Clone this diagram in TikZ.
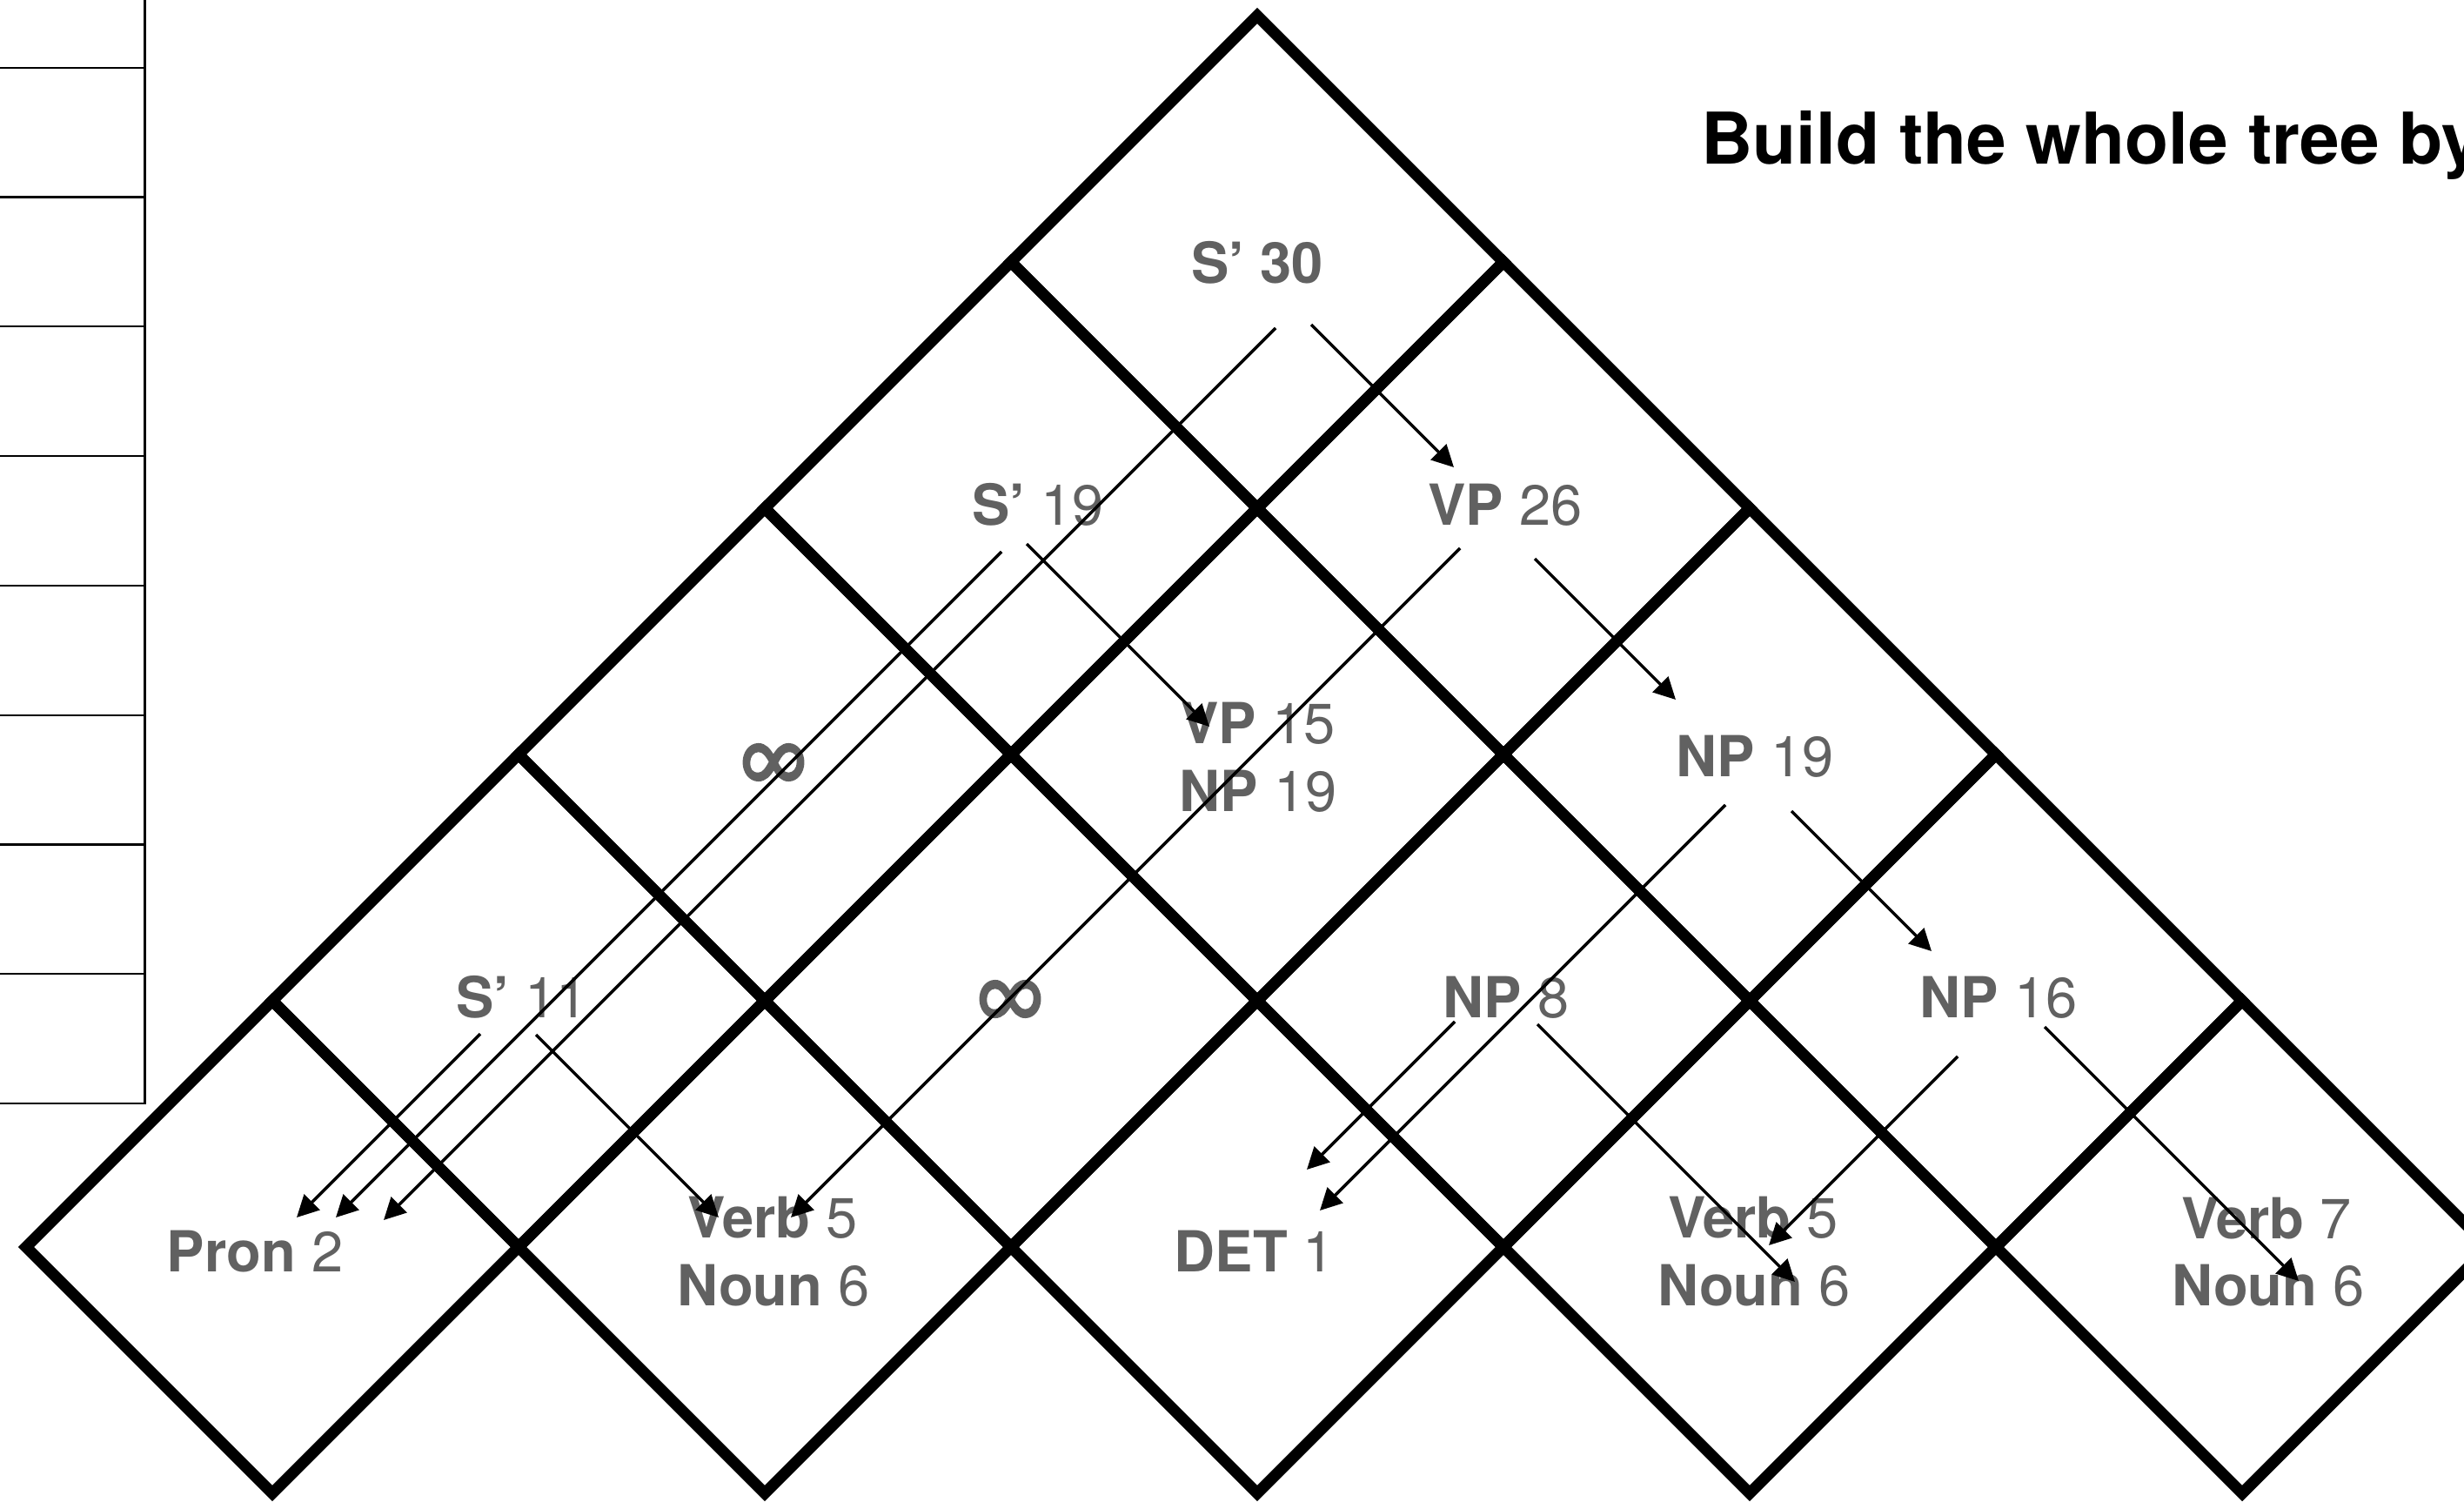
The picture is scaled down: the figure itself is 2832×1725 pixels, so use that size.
\documentclass[tikz,border=0pt]{standalone}
\usepackage{fontspec}
\setmainfont{TeX Gyre Heros}
\newfontfamily\inffont[FakeBold=1.6]{TeX Gyre Heros}
\usetikzlibrary{arrows.meta}
\definecolor{lblgray}{HTML}{616161}
\tikzset{
  gridline/.style={line width=13pt, line join=miter, draw=black},
  tableline/.style={line width=2.2pt, draw=black},
  arr/.style={line width=3.5pt, draw=black, -{Triangle[length=25pt,width=25pt]}},
  lbl/.style={text=lblgray, inner sep=0pt, anchor=base, font=\fontsize{65}{78}\selectfont},
  inf/.style={text=lblgray, inner sep=0pt, anchor=center, font=\fontsize{104}{104}\inffont},
  title/.style={text=black, inner sep=0pt, anchor=base west, font=\fontsize{82}{98}\selectfont\bfseries}
}
\begin{document}
\begin{tikzpicture}[x=1pt,y=-1pt]
\useasboundingbox (0,0) rectangle (2832,1725);
\fill[white] (0,0) rectangle (2832,1725);

% left table
\draw[tableline] (166.5,-5) -- (166.5,1268);
\foreach \k in {0,...,8}{
  \pgfmathsetmacro\yy{77.7+148.8*\k}
  \draw[tableline] (-5,\yy) -- (167.6,\yy);
}

% chart cells
\foreach \r in {0,...,4}{
  \pgfmathtruncatemacro\nmax{4-\r}
  \foreach \i in {0,...,\nmax}{
    \pgfmathsetmacro\cx{313+283*\r+566*\i}
    \pgfmathsetmacro\cy{1433-283*\r}
    \draw[gridline] (\cx-283,\cy) -- (\cx,\cy-283) -- (\cx+283,\cy) -- (\cx,\cy+283) -- cycle;
  }
}

% title
\node[title] (ttl) at (1955,188) {Build the whole tree by};

% labels
\node[lbl] (s30) at (1445,325) {\bfseries S’ 30};
\node[lbl] (s19) at (1193,603) {\bfseries S’ \mdseries 19};
\node[lbl] (vp26) at (1730,603) {\bfseries VP \mdseries 26};
\node[inf] (inf2) at (889,879) {∞};
\node[lbl] (vp15) at (1446,854) {\bfseries VP \mdseries 15};
\node[lbl] (np19a) at (1446,932) {\bfseries NP \mdseries 19};
\node[lbl] (np19b) at (2017,892) {\bfseries NP \mdseries 19};
\node[lbl] (s11) at (600,1169) {\bfseries S’ \mdseries 11};
\node[inf] (inf1) at (1161,1151) {∞};
\node[lbl] (np8) at (1731,1169) {\bfseries NP \mdseries 8};
\node[lbl] (np16) at (2297,1169) {\bfseries NP \mdseries 16};
\node[lbl] (pron) at (293,1461) {\bfseries Pron \mdseries 2};
\node[lbl] (verb1) at (888,1422) {\bfseries Verb \mdseries 5};
\node[lbl] (noun1) at (889,1500) {\bfseries Noun \mdseries 6};
\node[lbl] (det) at (1442,1461) {\bfseries DET \mdseries 1};
\node[lbl] (verb3) at (2015,1422) {\bfseries Verb \mdseries 5};
\node[lbl] (noun3) at (2016,1500) {\bfseries Noun \mdseries 6};
\node[lbl] (verb4) at (2605,1423) {\bfseries Verb \mdseries 7};
\node[lbl] (noun4) at (2607,1500) {\bfseries Noun \mdseries 6};

% arrow end points
\coordinate (a1s) at (1466,377);  \coordinate (a1e) at (441,1402);
\coordinate (a2s) at (1507,373);  \coordinate (a2e) at (1671,537);
\coordinate (a3s) at (1151,634);  \coordinate (a3e) at (386,1399);
\coordinate (a4s) at (1180,625);  \coordinate (a4e) at (1390,835);
\coordinate (a5s) at (1678,630);  \coordinate (a5e) at (909,1399);
\coordinate (a6s) at (1764,642);  \coordinate (a6e) at (1926,804);
\coordinate (a7s) at (1983,925);  \coordinate (a7e) at (1517,1391);
\coordinate (a8s) at (2059,932);  \coordinate (a8e) at (2220,1093);
\coordinate (a9s) at (552,1188);  \coordinate (a9e) at (341,1399);
\coordinate (a10s) at (616,1189); \coordinate (a10e) at (826,1399);
\coordinate (a11s) at (1672,1174); \coordinate (a11e) at (1502,1344);
\coordinate (a12s) at (1767,1177); \coordinate (a12e) at (2063,1473);
\coordinate (a13s) at (2250,1214); \coordinate (a13e) at (2033,1431);
\coordinate (a14s) at (2350,1180); \coordinate (a14e) at (2642,1472);

\foreach \a in {1,...,14}{
  \draw[arr] (a\a s) -- (a\a e);
}
\end{tikzpicture}
\end{document}
